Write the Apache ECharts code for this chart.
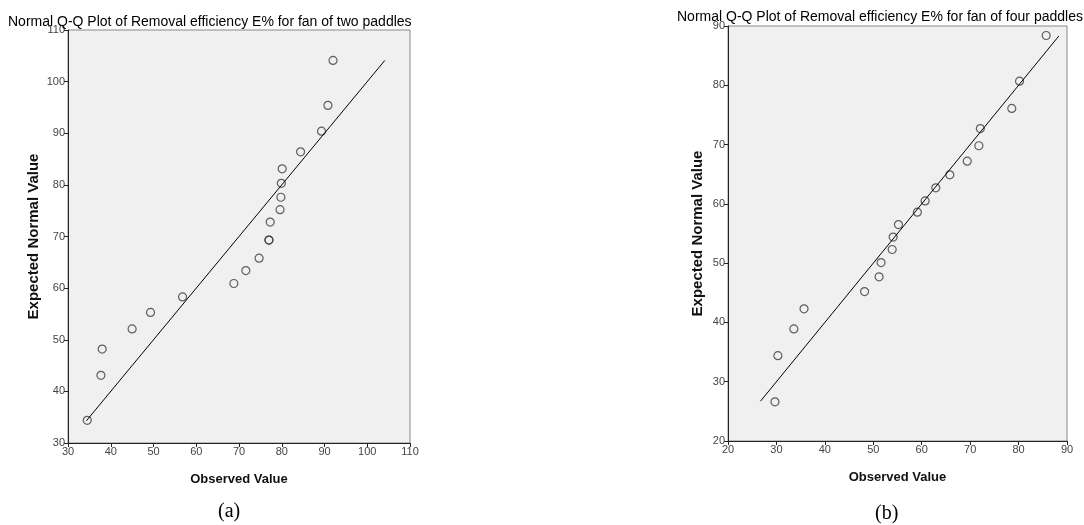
<!DOCTYPE html>
<html>
<head>
<meta charset="utf-8">
<script src="https://cdn.jsdelivr.net/npm/echarts@6/dist/echarts.min.js"></script>
<style>
html,body{margin:0;padding:0;background:#fff;}
#chart{width:1084px;height:525px;}
</style>
</head>
<body>
<div id="chart"></div>
<script>
// Panel (a): fan of two paddles
var titleA = 'Normal Q-Q Plot of Removal efficiency E% for fan of two paddles';
var observedA = [92.0, 90.8, 89.3, 84.4, 80.1, 79.9, 79.8, 79.6, 77.3, 77.0, 77.0, 74.7, 71.6, 68.8, 56.8, 49.3, 45.0, 38.0, 37.7, 34.5];
var expectedA = [104.1, 95.4, 90.4, 86.4, 83.1, 80.3, 77.6, 75.2, 72.8, 69.3, 69.3, 65.8, 63.4, 60.9, 58.3, 55.3, 52.1, 48.2, 43.1, 34.4];
var refLineA = [34.3, 104.1];
var xTicksA = [30, 110, 10];
var yTicksA = [30, 110, 10];

// Panel (b): fan of four paddles
var titleB = 'Normal Q-Q Plot of Removal efficiency E% for fan of four paddles';
var observedB = [85.7, 80.2, 78.6, 72.1, 71.8, 69.4, 65.8, 62.9, 60.7, 59.1, 55.2, 54.1, 53.9, 51.6, 51.2, 48.2, 35.7, 33.6, 30.3, 29.7];
var expectedB = [88.4, 80.7, 76.1, 72.7, 69.8, 67.2, 64.9, 62.7, 60.5, 58.6, 56.5, 54.4, 52.3, 50.1, 47.7, 45.2, 42.3, 38.9, 34.4, 26.6];
var refLineB = [26.7, 88.3];
var xTicksB = [20, 90, 10];
var yTicksB = [20, 90, 10];

var xName = 'Observed Value';
var yName = 'Expected Normal Value';
var captions = ['(a)', '(b)'];

function pairs(xs, ys) { return xs.map(function (x, i) { return [x, ys[i]]; }); }
function refPts(r) { return [[r[0], r[0]], [r[1], r[1]]]; }

var sansFont = 'Arial, "Liberation Sans", sans-serif';
var serifFont = '"Liberation Serif", "Times New Roman", serif';

function axisCommon(t, name, gap, nameSize) {
  return {
    type: 'value', min: t[0], max: t[1], interval: t[2],
    name: name, nameLocation: 'middle', nameGap: gap,
    nameTextStyle: { fontFamily: sansFont, fontWeight: 'bold', fontSize: nameSize, color: '#111' },
    axisLine: { show: true, onZero: false, lineStyle: { color: '#222', width: 1 } },
    axisTick: { show: true, inside: false, length: 4, lineStyle: { color: '#222' } },
    axisLabel: { fontFamily: sansFont, fontSize: 11, color: '#444', margin: 3 },
    splitLine: { show: false }
  };
}

var chart = echarts.init(document.getElementById('chart'), null, { renderer: 'canvas' });

var xa0 = axisCommon(xTicksA, xName, 30, 13); xa0.gridIndex = 0;
var xa1 = axisCommon(xTicksB, xName, 30, 13); xa1.gridIndex = 1;
var ya0 = axisCommon(yTicksA, yName, 27, 15); ya0.gridIndex = 0;
var ya1 = axisCommon(yTicksB, yName, 23, 15); ya1.gridIndex = 1;

var scatterStyle = { color: 'transparent', borderColor: '#3a3a3a', borderWidth: 1.2 };

chart.setOption({
  animation: false,
  backgroundColor: '#fff',
  title: [
    { text: titleA, left: 3, top: 10, textStyle: { fontFamily: sansFont, fontWeight: 'normal', fontSize: 14, color: '#000' } },
    { text: titleB, left: 672, top: 5, textStyle: { fontFamily: sansFont, fontWeight: 'normal', fontSize: 14, color: '#000' } },
    { text: captions[0], left: 213, top: 497, textStyle: { fontFamily: serifFont, fontWeight: 'normal', fontSize: 20, color: '#000' } },
    { text: captions[1], left: 870, top: 499, textStyle: { fontFamily: serifFont, fontWeight: 'normal', fontSize: 20, color: '#000' } }
  ],
  grid: [
    { left: 68, top: 30, width: 342, height: 413, show: true, backgroundColor: '#f0f0f0', borderColor: '#888', borderWidth: 1, containLabel: false },
    { left: 728, top: 26, width: 339, height: 415, show: true, backgroundColor: '#f0f0f0', borderColor: '#888', borderWidth: 1, containLabel: false }
  ],
  xAxis: [xa0, xa1],
  yAxis: [ya0, ya1],
  series: [
    { type: 'line', xAxisIndex: 0, yAxisIndex: 0, data: refPts(refLineA), showSymbol: false, silent: true,
      lineStyle: { color: '#000', width: 1 } },
    { type: 'scatter', xAxisIndex: 0, yAxisIndex: 0, data: pairs(observedA, expectedA), symbol: 'circle', symbolSize: 8,
      itemStyle: scatterStyle },
    { type: 'line', xAxisIndex: 1, yAxisIndex: 1, data: refPts(refLineB), showSymbol: false, silent: true,
      lineStyle: { color: '#000', width: 1 } },
    { type: 'scatter', xAxisIndex: 1, yAxisIndex: 1, data: pairs(observedB, expectedB), symbol: 'circle', symbolSize: 8,
      itemStyle: scatterStyle }
  ]
});
</script>
</body>
</html>
